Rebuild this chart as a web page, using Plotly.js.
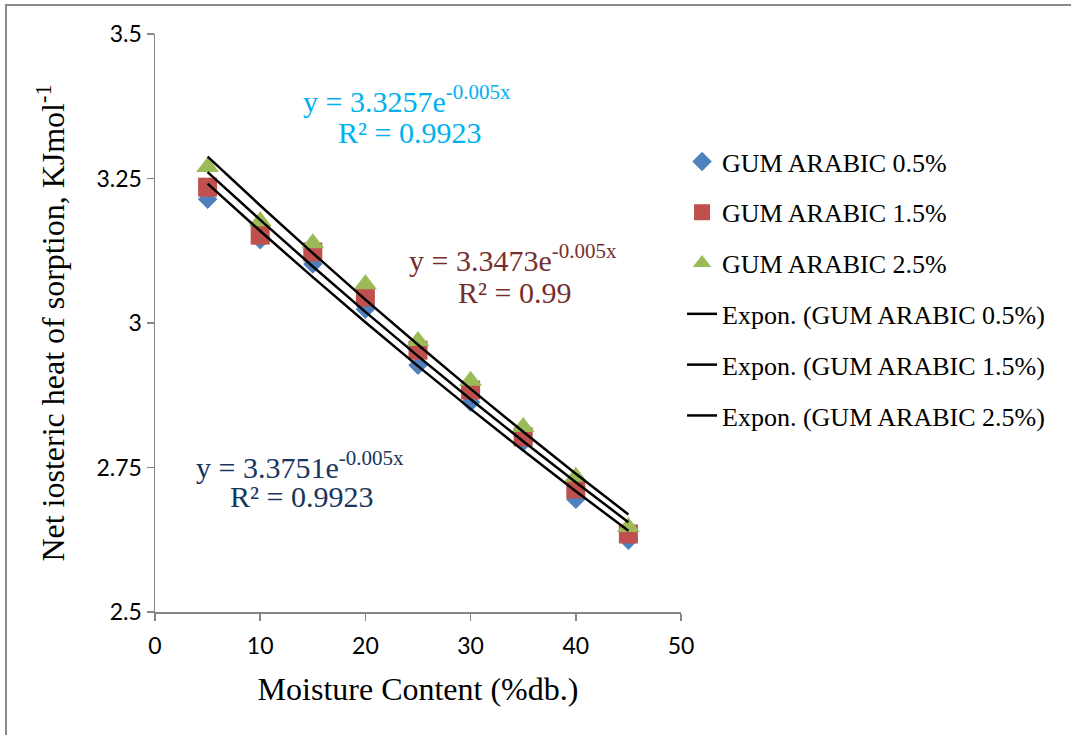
<!DOCTYPE html>
<html>
<head>
<meta charset="utf-8">
<script src="https://cdn.plot.ly/plotly-3.0.1.min.js"></script>
<style>
  html, body { margin: 0; padding: 0; background: #fff; overflow: hidden; }
  #wrap { position: relative; width: 1071px; height: 735px; overflow: hidden; }
  #chart { width: 1071px; height: 735px; }
  .fl { position: absolute; background: #8a8a8a; pointer-events: none; }
</style>
</head>
<body>
<div id="wrap">
  <div id="chart"></div>
  <div class="fl" style="left:5px; top:4px; width:1066px; height:2px;"></div>
  <div class="fl" style="left:5px; top:4px; width:2px; height:731px;"></div>
</div>
<script>
// ---- data ----
const moisture = [5, 10, 15, 20, 25, 30, 35, 40, 45];
const gum05 = [3.214, 3.144, 3.102, 3.024, 2.927, 2.863, 2.794, 2.695, 2.624];
const gum15 = [3.235, 3.152, 3.123, 3.045, 2.953, 2.884, 2.803, 2.713, 2.635];
const gum25 = [3.270, 3.176, 3.138, 3.067, 2.969, 2.900, 2.820, 2.734, 2.647];
const seriesNames = ["GUM ARABIC 0.5%", "GUM ARABIC 1.5%", "GUM ARABIC 2.5%"];
const yTickVals = [2.5, 2.75, 3, 3.25, 3.5];
const yTickText = ["2.5", "2.75", "3", "3.25", "3.5"];
const xTickVals = [0, 10, 20, 30, 40, 50];
const eqLines = ["y = 3.3257e<sup>-0.005x</sup>", "y = 3.3473e<sup>-0.005x</sup>", "y = 3.3751e<sup>-0.005x</sup>"];
const r2Lines = ["R² = 0.9923", "R² = 0.99", "R² = 0.9923"];

// exponential least-squares fit (as a spreadsheet trendline does)
function fitExp(xs, ys) {
  const n = xs.length;
  const ly = ys.map(Math.log);
  const mx = xs.reduce((s, v) => s + v, 0) / n;
  const my = ly.reduce((s, v) => s + v, 0) / n;
  let sxy = 0, sxx = 0;
  for (let i = 0; i < n; i++) { sxy += (xs[i] - mx) * (ly[i] - my); sxx += (xs[i] - mx) ** 2; }
  const b = sxy / sxx;
  const a = Math.exp(my - b * mx);
  return xs.map(x => a * Math.exp(b * x));
}

const serif = "'Liberation Serif', 'Times New Roman', serif";
const sans = "Lato, 'Open Sans', sans-serif";
const colors = ["#4F81BD", "#C0504D", "#9BBB59"];
const eqColors = ["#00B0F0", "#772F2D", "#17365D"];
const symbols = ["diamond", "square", "triangle-up"];
const sizes = [15, 19, 20];
const ys = [gum05, gum15, gum25];

const traces = [];
for (let i = 0; i < 3; i++) {
  traces.push({
    x: moisture, y: ys[i], type: "scatter", mode: "markers", name: seriesNames[i],
    legendgroup: "g" + i,
    marker: { color: colors[i], symbol: symbols[i], size: sizes[i], line: { width: 0 } }
  });
}
for (let i = 0; i < 3; i++) {
  traces.push({
    x: moisture, y: fitExp(moisture, ys[i]), type: "scatter", mode: "lines",
    name: "Expon. (" + seriesNames[i] + ")", legendgroup: "t" + i,
    line: { color: "#000000", width: 2.5 }
  });
}

// label anchor positions (data units)
const eqPos = [[24.0, 3.388], [34.0, 3.112], [13.8, 2.754]];
const r2Pos = [[24.2, 3.329], [34.22, 3.052], [13.93, 2.699]];
const annotations = [];
for (let i = 0; i < 3; i++) {
  annotations.push({ x: eqPos[i][0], y: eqPos[i][1], xref: "x", yref: "y", text: eqLines[i], showarrow: false,
    font: { family: serif, size: 30, color: eqColors[i] } });
  annotations.push({ x: r2Pos[i][0], y: r2Pos[i][1], xref: "x", yref: "y", text: r2Lines[i], showarrow: false,
    font: { family: serif, size: 30, color: eqColors[i] } });
}

const layout = {
  width: 1071, height: 735,
  margin: { l: 155, r: 390, t: 34, b: 123 },
  paper_bgcolor: "#ffffff", plot_bgcolor: "#ffffff",
  showlegend: true,
  legend: {
    x: 1.002, xanchor: "left", y: 0.82, yanchor: "top",
    traceorder: "grouped", tracegroupgap: 14,
    font: { family: serif, size: 26, color: "#000" },
    bgcolor: "rgba(0,0,0,0)", itemwidth: 30
  },
  xaxis: {
    range: [0, 50], tickvals: xTickVals, ticks: "outside", ticklen: 7, tickwidth: 1.5,
    tickcolor: "#868686", showline: true, linecolor: "#868686", linewidth: 1.5,
    showgrid: false, zeroline: false, ticklabelstandoff: 6,
    tickfont: { family: sans, size: 23, color: "#000" },
    title: { text: "Moisture Content (%db.)", font: { family: serif, size: 32, color: "#000" }, standoff: 19 }
  },
  yaxis: {
    range: [2.5, 3.5], tickvals: yTickVals, ticktext: yTickText, ticks: "outside", ticklen: 7, tickwidth: 1.5,
    tickcolor: "#868686", showline: true, linecolor: "#868686", linewidth: 1.5,
    showgrid: false, zeroline: false,
    tickfont: { family: sans, size: 23, color: "#000" },
    title: { text: "Net iosteric heat of sorption, KJmol<sup>-1</sup>", font: { family: serif, size: 32, color: "#000" }, standoff: 22 }
  },
  annotations: annotations
};

Plotly.newPlot("chart", traces, layout, { displayModeBar: false, staticPlot: true });
</script>
</body>
</html>
